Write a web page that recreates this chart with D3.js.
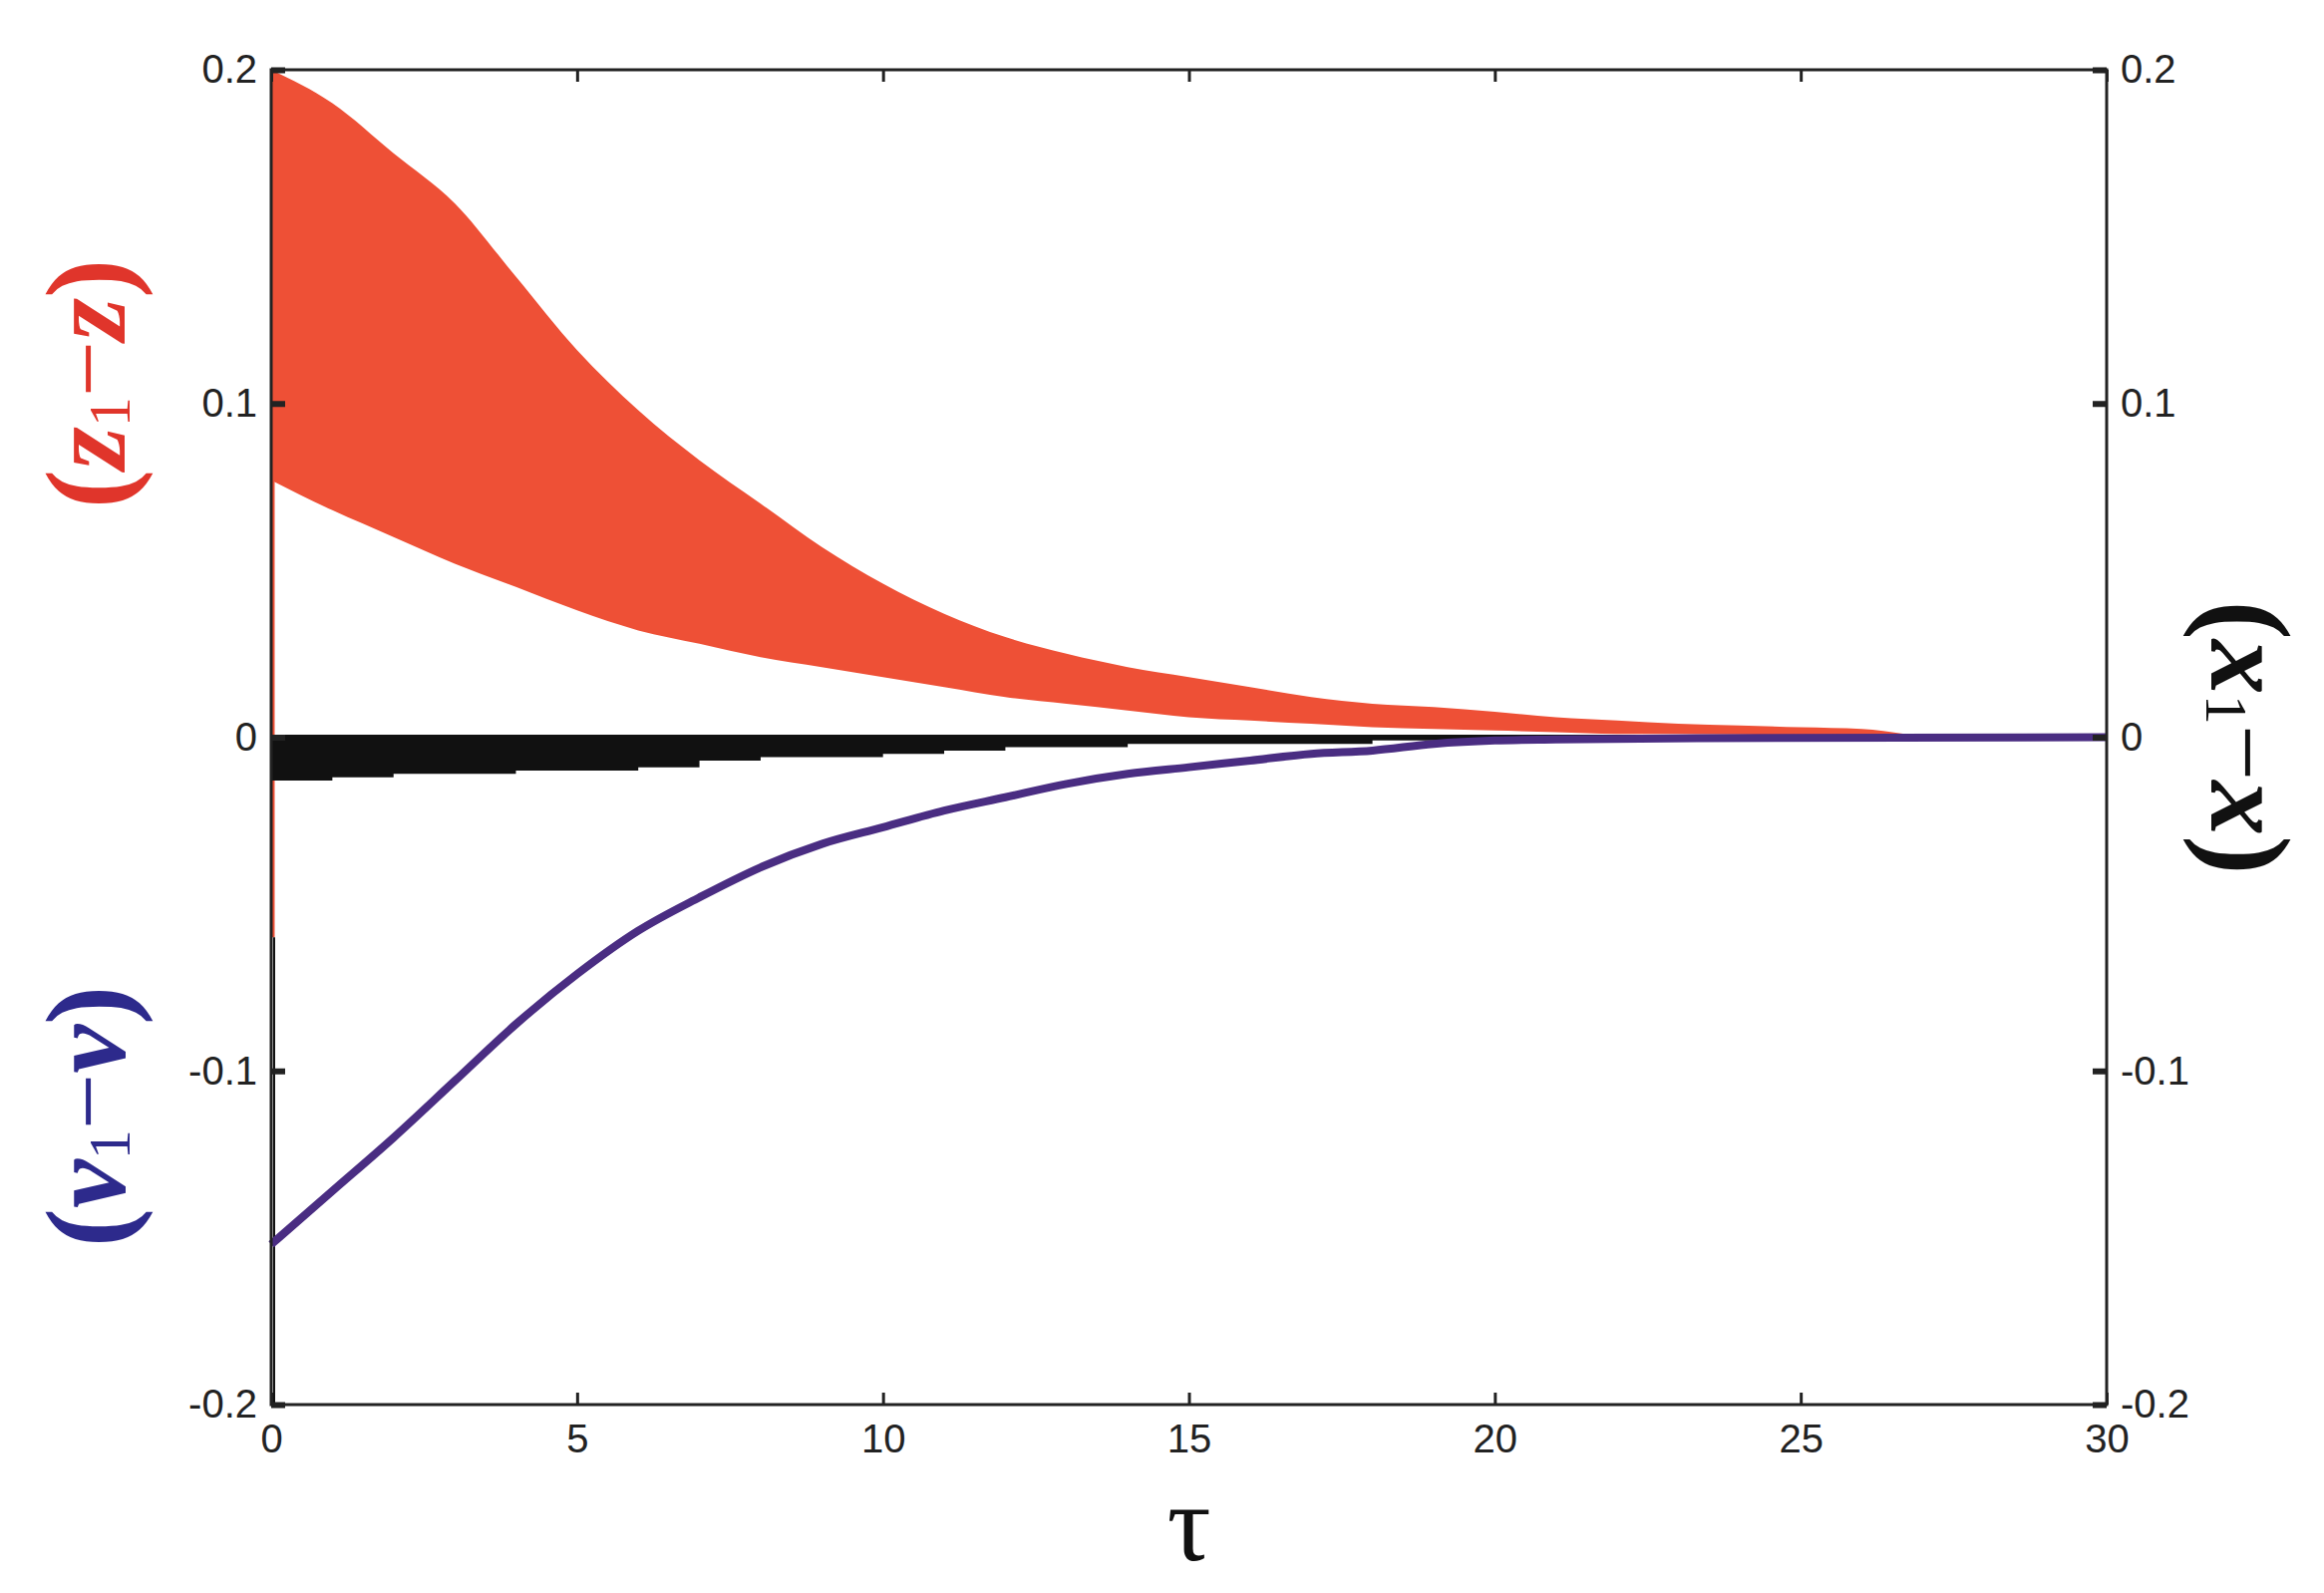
<!DOCTYPE html>
<html><head><meta charset="utf-8">
<script src="https://cdn.jsdelivr.net/npm/d3@7"></script>
<style>body{margin:0;background:#fff}</style></head>
<body><svg id="c" width="2331" height="1598"></svg>
<script>
const xTicks=[0,5,10,15,20,25,30];
const yTicks=[-0.2,-0.1,0,0.1,0.2];
const yTickLabels=["-0.2","-0.1","0","0.1","0.2"];
const redTau  =[0,1,2,3,4,5,6,7,8,9,10,11,12,13,14,15,16,17,18,19,20,21,22,23,24,25,26,26.7];
const redUpper=[0.2,0.19,0.175,0.16,0.138,0.116,0.098,0.083,0.07,0.057,0.046,0.037,0.03,0.025,0.021,0.018,0.015,0.012,0.01,0.009,0.0076,0.006,0.005,0.004,0.0035,0.003,0.0025,0.001];
const redLower=[0.077,0.068,0.06,0.052,0.045,0.038,0.032,0.028,0.024,0.021,0.018,0.015,0.012,0.01,0.008,0.006,0.005,0.004,0.003,0.0025,0.002,0.0015,0.001,0.001,0.0008,0.0006,0.0005,0.0005];
const blackTau  =[0,1,2,3,4,5,6,7,8,9,10,11,12,14,16,18,20,23];
const blackLower=[-0.013,-0.012,-0.011,-0.011,-0.01,-0.01,-0.009,-0.007,-0.006,-0.006,-0.005,-0.004,-0.003,-0.002,-0.002,-0.001,-0.001,-0.001];
const purpleTau=[0,1,2,3,4,5,6,7,8,9,10,11,12,13,14,15,16,17,18,19,20,21,23.3,30];
const purpleVal=[-0.152,-0.136,-0.12,-0.103,-0.086,-0.071,-0.058,-0.048,-0.039,-0.032,-0.027,-0.022,-0.018,-0.014,-0.011,-0.009,-0.007,-0.005,-0.004,-0.002,-0.001,-0.0007,-0.0003,0];

const L=272,R=2113,T=70,B=1409;
const svg=d3.select("#c");
const x=d3.scaleLinear().domain([0,30]).range([L,R]);
const y=d3.scaleLinear().domain([-0.2,0.2]).range([B,T]);
const g=svg.append("g");

const red=redTau.map((t,i)=>({t,u:redUpper[i],l:redLower[i]}));
g.append("path").datum(red).attr("fill","#ee5036")
 .attr("d",d3.area().x(d=>x(d.t)).y0(d=>y(d.l)).y1(d=>y(d.u)).curve(d3.curveMonotoneX));
g.append("line").attr("x1",x(0)+2).attr("x2",x(0)+2).attr("y1",y(-0.06)).attr("y2",y(0.2)).attr("stroke","#ee5036").attr("stroke-width",3);
const blk=blackTau.map((t,i)=>({t,l:blackLower[i]}));
g.append("path").datum(blk).attr("fill","#111")
 .attr("d",d3.area().x(d=>x(d.t)).y0(d=>y(d.l)).y1(()=>y(0)).curve(d3.curveStepAfter));
g.append("line").attr("x1",x(0)).attr("x2",x(23)).attr("y1",y(0)).attr("y2",y(0)).attr("stroke","#111").attr("stroke-width",5);
g.append("line").attr("x1",x(0)+3).attr("x2",x(0)+3).attr("y1",y(-0.06)).attr("y2",y(-0.2)).attr("stroke","#111").attr("stroke-width",2);
const pur=purpleTau.map((t,i)=>({t,v:purpleVal[i]}));
g.append("path").datum(pur).attr("fill","none").attr("stroke","#4a2d82").attr("stroke-width",8)
 .attr("d",d3.line().x(d=>x(d.t)).y(d=>y(d.v)).curve(d3.curveMonotoneX));

svg.append("rect").attr("x",L).attr("y",T).attr("width",R-L).attr("height",B-T).attr("fill","none").attr("stroke","#222").attr("stroke-width",3);
const font="Liberation Sans, Arial, sans-serif";
const xa=svg.append("g").attr("transform",`translate(0,${B})`)
 .call(d3.axisBottom(x).tickValues(xTicks).tickSize(-12).tickPadding(20).tickFormat(d3.format("d")));
xa.select(".domain").remove();
xa.selectAll("line").attr("stroke","#222").attr("stroke-width",3);
xa.selectAll("text").attr("font-family",font).attr("font-size",40).attr("fill","#222");
svg.append("g").attr("transform",`translate(0,${T})`)
 .call(d3.axisTop(x).tickValues(xTicks).tickSize(-12).tickFormat("")).call(a=>{a.select(".domain").remove();a.selectAll("line").attr("stroke","#222").attr("stroke-width",3);});
const fmt=d=>yTickLabels[yTicks.indexOf(d)];
const yl=svg.append("g").attr("transform",`translate(${L},0)`)
 .call(d3.axisLeft(y).tickValues(yTicks).tickSize(-14).tickPadding(14).tickFormat(fmt));
yl.select(".domain").remove();
yl.selectAll("line").attr("stroke","#222").attr("stroke-width",6);
yl.selectAll("text").attr("font-family",font).attr("font-size",40).attr("fill","#222");
const yr=svg.append("g").attr("transform",`translate(${R},0)`)
 .call(d3.axisRight(y).tickValues(yTicks).tickSize(-14).tickPadding(14).tickFormat(fmt));
yr.select(".domain").remove();
yr.selectAll("line").attr("stroke","#222").attr("stroke-width",6);
yr.selectAll("text").attr("font-family",font).attr("font-size",40).attr("fill","#222");

const serif="Liberation Serif, Times New Roman, serif";
function lab(cx,cy,rot,color,main,sub,rest){
 const t=svg.append("text").attr("transform",`translate(${cx},${cy}) rotate(${rot})`)
  .attr("text-anchor","middle").attr("dominant-baseline","central")
  .attr("font-family",serif).attr("font-weight","bold").attr("font-size",118).attr("fill",color);
 t.append("tspan").text("(");
 t.append("tspan").attr("font-style","italic").attr("font-size",110).text(main);
 t.append("tspan").attr("font-size",60).attr("font-weight","normal").attr("dy",22).text(sub);
 t.append("tspan").attr("dy",-22).attr("font-size",100).attr("font-weight","normal").text("−");
 t.append("tspan").attr("font-style","italic").attr("font-size",110).text(rest);
 t.append("tspan").text(")");
}
lab(88,385,-90,"#e0352b","z","1","z");
lab(88,1120,-90,"#2d2a8c","v","1","v");
lab(2255,740,90,"#111","x","1","x");
svg.append("text").attr("x",(L+R)/2).attr("y",1565).attr("text-anchor","middle")
 .attr("font-family",serif).attr("font-size",110).attr("fill","#111").text("τ");
</script></body></html>
